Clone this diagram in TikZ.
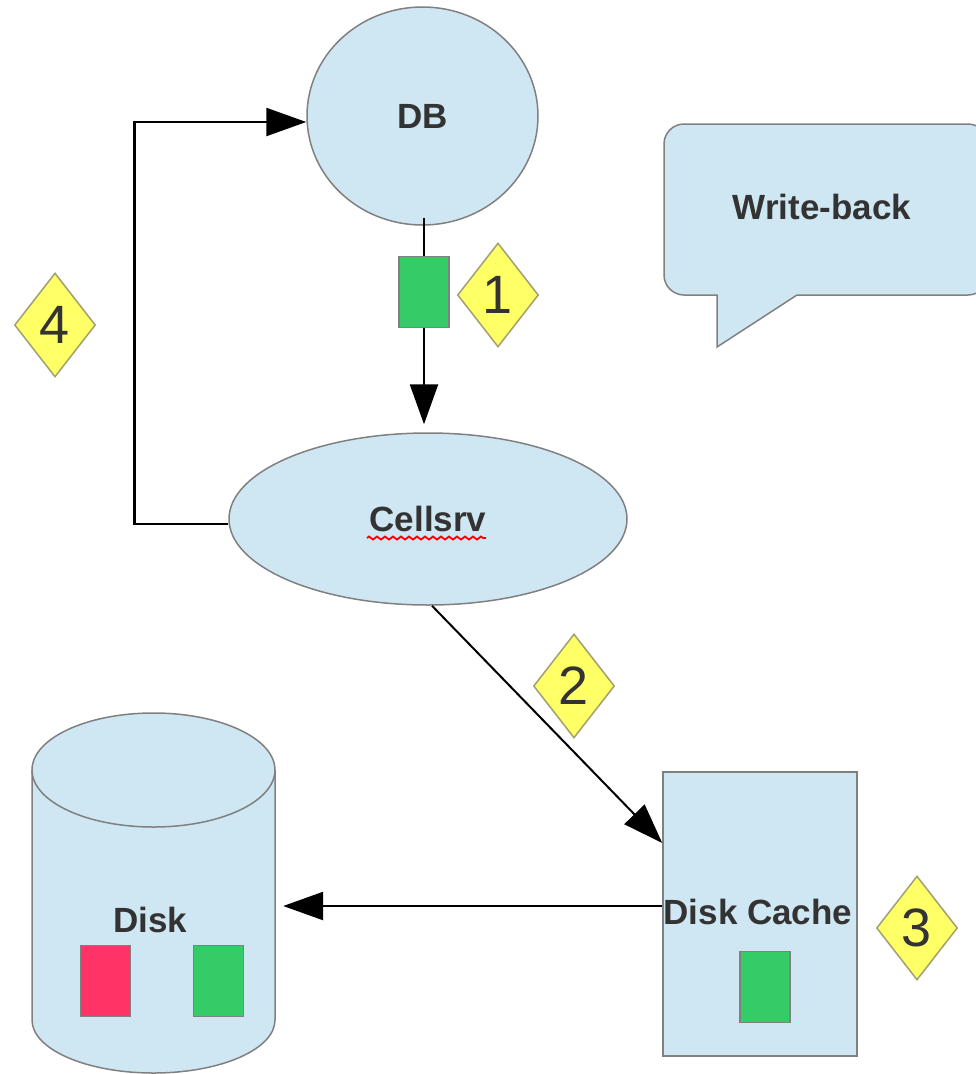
\documentclass[tikz,border=0pt]{standalone}
\usepackage{fontspec}
\setmainfont{Liberation Sans}
\usetikzlibrary{shapes.geometric,arrows.meta,decorations.pathmorphing}
\definecolor{shapefill}{HTML}{CFE6F3}
\definecolor{shapeline}{HTML}{808080}
\definecolor{blockgreen}{HTML}{33CC66}
\definecolor{blockred}{HTML}{FF3366}
\definecolor{badgefill}{HTML}{FFFF66}
\definecolor{badgeline}{HTML}{A0A070}
\definecolor{txt}{HTML}{333333}
\begin{document}
\begin{tikzpicture}[x=1pt,y=-1pt,
  shapebox/.style={draw=shapeline, fill=shapefill, line width=1.5pt, inner sep=0pt, text=txt, font=\fontsize{35}{40}\selectfont\bfseries},
  lbl/.style={text=txt, inner sep=0pt, font=\fontsize{35}{40}\selectfont\bfseries},
  block/.style={draw=shapeline, line width=1.5pt, minimum width=50pt, minimum height=71pt, inner sep=0pt},
  badge/.style={diamond, draw=badgeline, fill=badgefill, line width=1.5pt, minimum width=81pt, minimum height=104pt, inner sep=0pt, text=txt, font=\fontsize{54}{60}\selectfont},
  conn/.style={draw=black, line width=2.5pt, -{Triangle[length=40pt,width=28pt]}},
]
\useasboundingbox (0,0) rectangle (976,1074);
\clip (0,0) rectangle (976,1074);

% DB and Cellsrv
\node[shapebox, ellipse, minimum width=231pt, minimum height=218pt] (db) at (422.5,116) {DB};
\node[shapebox, ellipse, minimum width=398pt, minimum height=172pt] (cell) at (428,519) {Cellsrv};
\draw[red, line width=1.8pt, decorate, decoration={zigzag, segment length=8pt, amplitude=1.5pt}] (367,538) -- (486,538);

% callout
\draw[draw=shapeline, fill=shapefill, line width=1.5pt]
  (717,347) -- (717,295) -- (684,295) .. controls (673,295) and (664,286) .. (664,275)
  -- (664,144) .. controls (664,133) and (673,124) .. (684,124)
  -- (968,124) .. controls (979,124) and (988,133) .. (988,144)
  -- (988,275) .. controls (988,286) and (979,295) .. (968,295)
  -- (797,295) -- cycle;
\node[lbl] (wb) at (822,207) {Write-back};

% Disk Cache
\node[shapebox, rectangle, minimum width=194pt, minimum height=284pt] (cache) at (760,914) {};
\node[lbl] (cachetext) at (758,912) {Disk Cache};
\node[block, fill=blockgreen] (g3) at (765,987) {};

% Disk cylinder
\node[minimum width=243pt, minimum height=361pt, inner sep=0pt] (disk) at (153.5,892.5) {};
\fill[shapefill] (32,770) rectangle (275,1020);
\draw[fill=shapefill, draw=shapeline, line width=1.5pt]
  (32,770) -- (32,1020) .. controls (32,1049.3) and (86.4,1073) .. (153.5,1073)
  .. controls (220.6,1073) and (275,1049.3) .. (275,1020) -- (275,770);
\draw[fill=shapefill, draw=shapeline, line width=1.5pt] (153.5,770) ellipse (121.5pt and 57pt);
\node[lbl] (disktext) at (150,920) {Disk};
\node[block, fill=blockred] (r2) at (105.5,981) {};
\node[block, fill=blockgreen] (g2) at (218.5,981) {};

% green block on DB -> Cellsrv
\node[block, fill=blockgreen] (g1) at (424,292) {};

% connectors
\draw[line width=2.5pt] ([yshift=8pt]db.south -| g1.north) -- (g1.north);
\draw[conn, shorten >=8pt] (g1.south) -- (g1.south |- cell.north);
\draw[conn] ([yshift=-5pt]cell.west) -- ++(-94,0) |- ([yshift=-6pt]db.west);
\draw[conn, line width=2pt] ([xshift=4pt]cell.south) -- ([yshift=71pt]cache.west);
\draw[conn, shorten >=8pt] ([yshift=8pt]cache.west) -- ([yshift=8pt]cache.west -| disk.east);

% badges
\node[badge] (b1) at (498,295) {1};
\node[badge] (b2) at (574,686) {2};
\node[badge] (b3) at (917,928) {3};
\node[badge] (b4) at (55,325) {4};
\end{tikzpicture}
\end{document}
